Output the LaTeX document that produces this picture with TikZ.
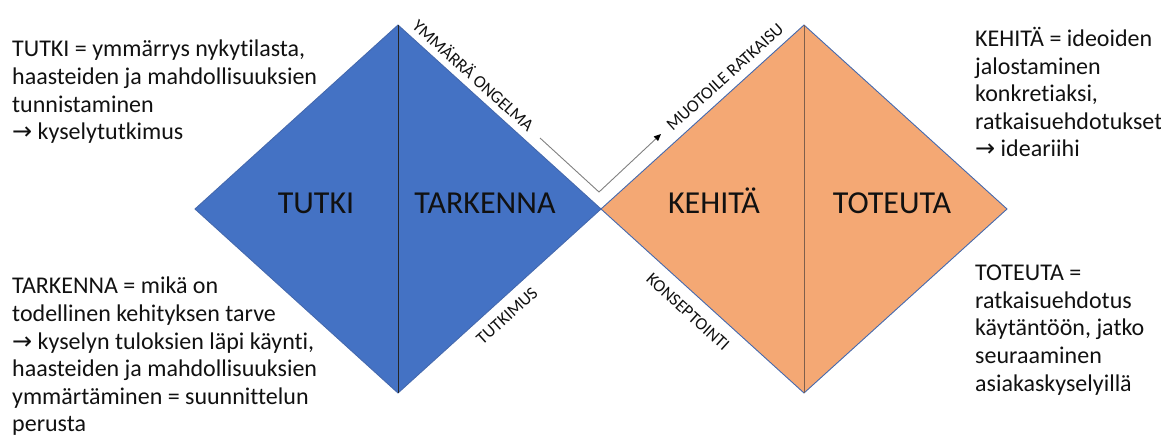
\documentclass[tikz,border=0pt]{standalone}
\usepackage{fontspec}
\setmainfont{Carlito}[Ligatures=NoCommon]
\newfontfamily\symfont{DejaVu Sans}
\usetikzlibrary{arrows.meta}
\definecolor{phaseblue}{HTML}{4472C4}
\definecolor{phaseorange}{HTML}{F4A874}
\definecolor{phaseedge}{HTML}{4469AE}
\definecolor{orangedivider}{HTML}{7E5F4C}
\definecolor{flowgray}{HTML}{808080}
\definecolor{textblack}{HTML}{111111}
\newcommand{\rarr}{{\symfont\char"2192}}

\begin{document}
\begin{tikzpicture}[x=1pt,y=-1pt,
  phase/.style={draw=phaseedge, line width=0.9pt, line join=miter},
  divider/.style={line width=1pt},
  phaselabel/.style={font=\fontsize{32}{38}\selectfont, text=textblack, inner sep=0pt, anchor=base},
  edgelabel/.style={font=\fontsize{17.5}{21}\selectfont, text=textblack, inner sep=0pt},
  note/.style={font=\fontsize{24}{27.6}\selectfont, text=textblack, align=left, anchor=north west, inner sep=0pt},
]
\useasboundingbox (0,0) rectangle (1161,439);

% diamond corners
\coordinate (bL) at (195,209);
\coordinate (bT) at (398,25);
\coordinate (bB) at (398,393);
\coordinate (mid) at (601,209);
\coordinate (oT) at (804,25);
\coordinate (oB) at (804,393);
\coordinate (oR) at (1007,209);

% the two diamonds
\filldraw[phase, fill=phaseblue] (bL) -- (bT) -- (mid) -- (bB) -- cycle;
\filldraw[phase, fill=phaseorange] (mid) -- (oT) -- (oR) -- (oB) -- cycle;

% vertical dividers
\draw[divider, black!85] (bT) -- (bB);
\draw[divider, orangedivider] (oT) -- (oB);

% phase names
\node[phaselabel] (tutki) at (316,213) {TUTKI};
\node[phaselabel] (tarkenna) at (485,213) {TARKENNA};
\node[phaselabel] (kehita) at (714,213) {KEHITÄ};
\node[phaselabel] (toteuta) at (892,213) {TOTEUTA};

% labels along the edges
\node[edgelabel, rotate=-42.2] (ymmarra) at (474,75) {YMMÄRRÄ ONGELMA};
\node[edgelabel, rotate=42.2] (muotoile) at (725,77) {MUOTOILE RATKAISU};
\node[edgelabel, rotate=42.2] (tutkimus) at (507,316) {TUTKIMUS};
\node[edgelabel, rotate=-42.2] (konsept) at (688,312) {KONSEPTOINTI};

% flow arrow through the waist
\coordinate (f1) at (540,138);
\coordinate (f2) at (599,192);
\coordinate (f3) at (661,134);
\draw[flowgray, line width=0.9pt, -{Triangle[length=7pt,width=6pt,color=black]}]
  (f1) -- (f2) -- (f3);

% explanatory notes
\node[note] (note-tutki) at (12,40) {TUTKI = ymmärrys nykytilasta,\\
haasteiden ja mahdollisuuksien\\
tunnistaminen\\
\rarr{} kyselytutkimus};

\node[note] (note-tarkenna) at (12,277) {TARKENNA = mikä on\\
todellinen kehityksen tarve\\
\rarr{} kyselyn tuloksien läpi käynti,\\
haasteiden ja mahdollisuuksien\\
ymmärtäminen = suunnittelun\\
perusta};

\node[note] (note-kehita) at (975,27) {KEHITÄ = ideoiden\\
jalostaminen\\
konkretiaksi,\\
ratkaisuehdotukset\\
\rarr{} ideariihi};

\node[note] (note-toteuta) at (975,265) {TOTEUTA =\\
ratkaisuehdotus\\
käytäntöön, jatko\\
seuraaminen\\
asiakaskyselyillä};
\end{tikzpicture}
\end{document}
